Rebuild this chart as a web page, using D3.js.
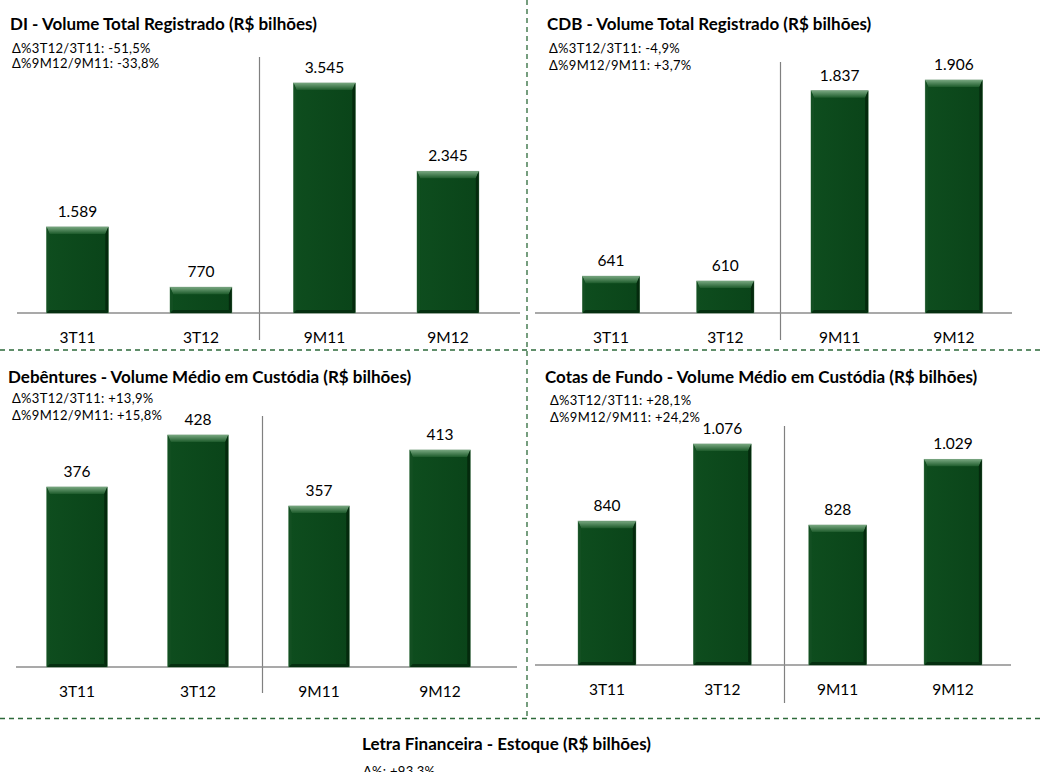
<!DOCTYPE html>
<html><head><meta charset="utf-8">
<script src="https://cdn.jsdelivr.net/npm/d3@7"></script>
<style>
html,body{margin:0;padding:0;background:#fff;}
svg{display:block;}
text{font-family:Lato,"Open Sans",sans-serif;fill:#000;}
</style></head>
<body>
<svg id="chart" width="1044" height="772"></svg>
<script>
// ---------- DATA ----------
const categories = ["3T11", "3T12", "9M11", "9M12"];
const diValues = [1589, 770, 3545, 2345];
const cdbValues = [641, 610, 1837, 1906];
const debenturesValues = [376, 428, 357, 413];
const cotasValues = [840, 1076, 828, 1029];

const titles = [
  "DI - Volume Total Registrado (R$ bilhões)",
  "CDB - Volume Total Registrado (R$ bilhões)",
  "Debêntures - Volume Médio em Custódia (R$ bilhões)",
  "Cotas de Fundo - Volume Médio em Custódia (R$ bilhões)"
];
const annotations = [
  ["Δ%3T12/3T11: -51,5%", "Δ%9M12/9M11: -33,8%"],
  ["Δ%3T12/3T11: -4,9%", "Δ%9M12/9M11: +3,7%"],
  ["Δ%3T12/3T11: +13,9%", "Δ%9M12/9M11: +15,8%"],
  ["Δ%3T12/3T11: +28,1%", "Δ%9M12/9M11: +24,2%"]
];
const bottomTitle = "Letra Financeira - Estoque (R$ bilhões)";
const bottomAnnotation = "Δ%: +93,3%";

// ---------- LAYOUT ----------
const layouts = [
  {values: diValues, xr: [15.7, 509.7], base: 313, top: 83, ymin: 420, titleX: 10, titleY: 30,
   annX: 12, annY: [53, 68], axisX: [17, 520], sepX: 259.5, sepY: [57, 340]},
  {values: cdbValues, xr: [553.9, 1011], base: 313, top: 80, ymin: 404, titleX: 547, titleY: 30,
   annX: 549, annY: [53, 70], axisX: [535, 1012], sepX: 780.5, sepY: [62, 340]},
  {values: debenturesValues, xr: [16.5, 500.5], base: 667, top: 435, ymin: 196, titleX: 8, titleY: 383,
   annX: 12, annY: [403, 420], axisX: [16, 517], sepX: 262.5, sepY: [416, 693]},
  {values: cotasValues, xr: [549.3, 1010.7], base: 665, top: 444, ymin: 400, titleX: 545, titleY: 383,
   annX: 550, annY: [405, 422], axisX: [535, 1011], sepX: 784.5, sepY: [426, 703]}
];

const fmt = d3.formatLocale({decimal: ",", thousands: ".", grouping: [3], currency: ["R$", ""]}).format(",d");

const svg = d3.select("#chart");
svg.append("rect").attr("width", 1044).attr("height", 772).attr("fill", "#fff");

const defs = svg.append("defs");
const gTop = defs.append("linearGradient").attr("id", "bevTop").attr("x1", 0).attr("y1", 0).attr("x2", 0).attr("y2", 1);
gTop.append("stop").attr("offset", "0%").attr("stop-color", "#77a67f");
gTop.append("stop").attr("offset", "100%").attr("stop-color", "#1d5b2b");
const gBody = defs.append("linearGradient").attr("id", "body").attr("x1", 0).attr("y1", 0).attr("x2", 1).attr("y2", 0);
gBody.append("stop").attr("offset", "0%").attr("stop-color", "#0e4d1e");
gBody.append("stop").attr("offset", "100%").attr("stop-color", "#0a4419");

// dashed dividers
const dashColor = "#2d6a3a";
svg.append("line").attr("x1", 527).attr("x2", 527).attr("y1", 0).attr("y2", 716)
  .attr("stroke", dashColor).attr("stroke-width", 1.3).attr("stroke-dasharray", "5,4");
svg.append("line").attr("x1", 0).attr("x2", 1044).attr("y1", 350).attr("y2", 350)
  .attr("stroke", dashColor).attr("stroke-width", 1.3).attr("stroke-dasharray", "5,4");
svg.append("line").attr("x1", 0).attr("x2", 1044).attr("y1", 718.5).attr("y2", 718.5)
  .attr("stroke", dashColor).attr("stroke-width", 1.3).attr("stroke-dasharray", "5,4");

layouts.forEach((L, i) => {
  const g = svg.append("g");
  const x = d3.scaleBand().domain(categories).range(L.xr).paddingInner(0.5).paddingOuter(0.25);
  const y = d3.scaleLinear().domain([L.ymin, d3.max(L.values)]).range([L.base, L.top]);

  // title
  g.append("text").attr("x", L.titleX).attr("y", L.titleY)
    .attr("font-size", 17).attr("font-weight", "bold").text(titles[i]);
  // annotations
  annotations[i].forEach((t, k) => {
    g.append("text").attr("x", L.annX).attr("y", L.annY[k]).attr("font-size", 13)
      .attr("letter-spacing", 0.3).text(t);
  });

  // separator
  g.append("line").attr("x1", L.sepX).attr("x2", L.sepX).attr("y1", L.sepY[0]).attr("y2", L.sepY[1])
    .attr("stroke", "#808080").attr("stroke-width", 1.2);
  // axis baseline
  g.append("line").attr("x1", L.axisX[0]).attr("x2", L.axisX[1]).attr("y1", L.base).attr("y2", L.base)
    .attr("stroke", "#8c8c8c").attr("stroke-width", 1.6);

  const data = categories.map((c, k) => ({c, v: L.values[k]}));
  const bw = x.bandwidth();
  const b = 7, s = 3;
  const bars = g.selectAll("g.bar").data(data).join("g").attr("class", "bar");
  bars.each(function(d) {
    const gg = d3.select(this);
    const x0 = x(d.c), y0 = y(d.v), x1 = x0 + bw, y1 = L.base;
    gg.append("rect").attr("x", x0).attr("y", y0).attr("width", bw).attr("height", y1 - y0)
      .attr("fill", "url(#body)").attr("stroke", "#7aa180").attr("stroke-width", 0.8);
    // top bevel
    gg.append("path").attr("d", `M${x0},${y0}L${x1},${y0}L${x1 - s},${y0 + b}L${x0 + s},${y0 + b}Z`)
      .attr("fill", "url(#bevTop)");
    // left side
    gg.append("path").attr("d", `M${x0},${y0}L${x0 + s},${y0 + b}L${x0 + s},${y1 - s}L${x0},${y1}Z`)
      .attr("fill", "#134f22");
    // right side
    gg.append("path").attr("d", `M${x1},${y0}L${x1 - s},${y0 + b}L${x1 - s},${y1 - s}L${x1},${y1}Z`)
      .attr("fill", "#042a0d");
    // bottom
    gg.append("path").attr("d", `M${x0},${y1}L${x0 + s},${y1 - s}L${x1 - s},${y1 - s}L${x1},${y1}Z`)
      .attr("fill", "#052f10");
    // value label
    gg.append("text").attr("x", x0 + bw / 2).attr("y", y0 - 10).attr("text-anchor", "middle")
      .attr("font-size", 15.5).text(fmt(d.v));
  });

  // category labels via axis
  const axis = d3.axisBottom(x).tickSize(0).tickPadding(0);
  const ag = g.append("g").attr("transform", `translate(0,${L.base + 30})`).call(axis);
  ag.select(".domain").remove();
  ag.selectAll("text").attr("font-size", 15.5).attr("dy", 0).attr("fill", "#000")
    .style("font-family", "Lato, 'Open Sans', sans-serif");
});

// bottom section
svg.append("text").attr("x", 362).attr("y", 750).attr("font-size", 17).attr("font-weight", "bold").text(bottomTitle);
svg.append("text").attr("x", 363).attr("y", 776).attr("font-size", 13).attr("letter-spacing", 0.3).text(bottomAnnotation);
</script>
</body></html>
